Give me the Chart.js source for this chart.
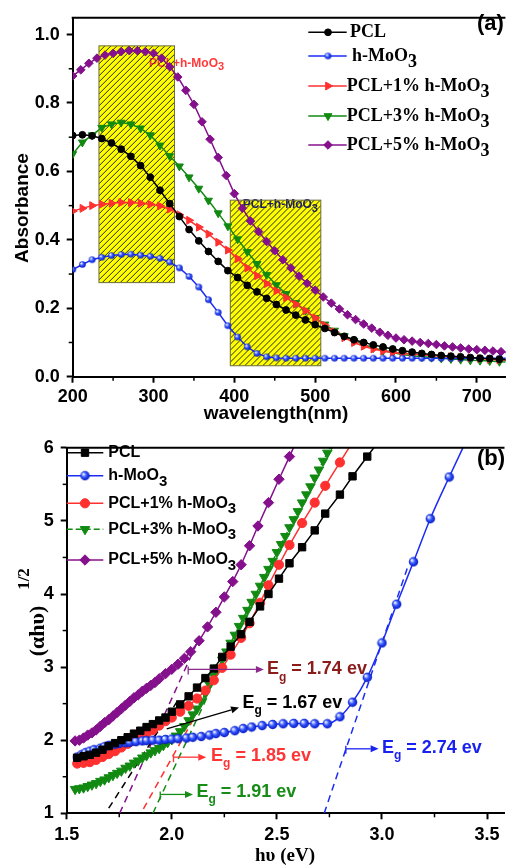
<!DOCTYPE html>
<html lang="en">
<head>
    <meta charset="UTF-8">
    <title>Absorbance and Tauc plots of PCL / h-MoO3</title>
    <script src="https://cdn.jsdelivr.net/npm/chart.js"></script>
    <style>
        body { margin: 0; background: #fff; width: 511px; height: 866px; overflow: hidden; }
        #wrapA { position: absolute; left: 0; top: 0; width: 511px; height: 430px; }
        #wrapB { position: absolute; left: 0; top: 430px; width: 511px; height: 436px; }
    </style>
</head>
<body>

<div id="wrapA"><canvas id="chartA" width="511" height="430"></canvas></div>
<div id="wrapB"><canvas id="chartB" width="511" height="436"></canvas></div>

<script>
    // ---- panel (a): absorbance vs wavelength ----
    const wavelength12 = [200, 212, 224, 236, 248, 260, 272, 284, 296, 308, 320, 332, 344, 356, 368, 380, 392, 404, 416, 428,
        440, 452, 464, 476, 488, 500, 512, 524, 536, 548, 560, 572, 584, 596, 608, 620, 632, 644, 656, 668, 680, 692, 704, 716, 728, 740];
    const wavelength10 = [200, 210, 220, 230, 240, 250, 260, 270, 280, 290, 300, 310, 320, 330, 340, 350, 360, 370, 380, 390,
        400, 410, 420, 430, 440, 450, 460, 470, 480, 490, 500, 510, 520, 530, 540, 550, 560, 570, 580, 590,
        600, 610, 620, 630, 640, 650, 660, 670, 680, 690, 700, 710, 720, 730, 740];

    const absPCL = [0.705, 0.707, 0.704, 0.696, 0.683, 0.665, 0.644, 0.617, 0.583, 0.545, 0.506, 0.468, 0.430, 0.397, 0.366, 0.337, 0.310, 0.290, 0.267, 0.248,
        0.229, 0.211, 0.195, 0.180, 0.166, 0.152, 0.141, 0.129, 0.118, 0.108, 0.100, 0.093, 0.087, 0.081, 0.076, 0.072, 0.068, 0.065, 0.062, 0.060, 0.058, 0.056, 0.054, 0.053, 0.051, 0.050];
    const absMoO3 = [0.313, 0.328, 0.342, 0.349, 0.354, 0.357, 0.358, 0.355, 0.352, 0.346, 0.335, 0.318, 0.293, 0.262, 0.225, 0.188, 0.149, 0.116, 0.087, 0.068,
        0.058, 0.055, 0.054, 0.054, 0.054, 0.054, 0.054, 0.054, 0.054, 0.054, 0.054, 0.054, 0.054, 0.054, 0.054, 0.054, 0.054, 0.054, 0.054, 0.054, 0.054, 0.054, 0.054, 0.054, 0.054, 0.054];
    const absPCL1 = [0.484, 0.492, 0.500, 0.504, 0.507, 0.509, 0.509, 0.507, 0.504, 0.499, 0.490, 0.473, 0.457, 0.437, 0.417, 0.393, 0.370, 0.345, 0.318, 0.295,
        0.272, 0.251, 0.231, 0.212, 0.193, 0.172, 0.150, 0.131, 0.114, 0.100, 0.089, 0.081, 0.075, 0.071, 0.068, 0.066, 0.064, 0.062, 0.060, 0.058, 0.056, 0.055, 0.053, 0.051, 0.049, 0.048];
    const absPCL3 = [0.651, 0.685, 0.706, 0.728, 0.738, 0.743, 0.738, 0.726, 0.706, 0.676, 0.645, 0.615, 0.583, 0.550, 0.515, 0.478, 0.440, 0.402, 0.365, 0.330,
        0.298, 0.268, 0.242, 0.216, 0.193, 0.172, 0.153, 0.135, 0.119, 0.105, 0.094, 0.084, 0.076, 0.070, 0.065, 0.061, 0.058, 0.056, 0.054, 0.052, 0.050, 0.048, 0.047, 0.046, 0.044, 0.043];
    const absPCL5 = [0.879, 0.897, 0.916, 0.931, 0.940, 0.945, 0.950, 0.953, 0.953, 0.950, 0.945, 0.931, 0.906, 0.876, 0.837, 0.796, 0.745, 0.694, 0.641, 0.588,
        0.535, 0.492, 0.455, 0.424, 0.395, 0.368, 0.342, 0.318, 0.294, 0.273, 0.253, 0.233, 0.215, 0.198, 0.181, 0.167, 0.154, 0.142, 0.130, 0.121,
        0.113, 0.108, 0.104, 0.100, 0.097, 0.094, 0.090, 0.087, 0.084, 0.081, 0.079, 0.077, 0.075, 0.073, 0.071];

    // ---- panel (b): (alpha h nu)^1/2 vs photon energy ----
    const ePCL = [1.55, 1.58, 1.61, 1.64, 1.67, 1.70, 1.73, 1.76, 1.79, 1.82, 1.85, 1.88, 1.91, 1.94, 1.97, 2.00, 2.04, 2.08, 2.12, 2.16,
        2.20, 2.24, 2.28, 2.33, 2.37, 2.42, 2.46, 2.51, 2.56, 2.62, 2.68, 2.73, 2.80, 2.86, 2.93, 3.00];
    const tPCL = [1.76, 1.78, 1.80, 1.83, 1.87, 1.92, 1.96, 2.00, 2.04, 2.09, 2.13, 2.18, 2.22, 2.27, 2.31, 2.39, 2.49, 2.60, 2.72, 2.85,
        2.98, 3.14, 3.28, 3.45, 3.62, 3.83, 4.00, 4.21, 4.42, 4.64, 4.87, 5.10, 5.36, 5.61, 5.88, 6.15];
    const tPCL1 = [1.68, 1.69, 1.70, 1.73, 1.77, 1.81, 1.85, 1.90, 1.95, 1.99, 2.04, 2.09, 2.14, 2.20, 2.26, 2.31, 2.39, 2.47, 2.57, 2.68,
        2.82, 2.99, 3.17, 3.40, 3.60, 3.88, 4.12, 4.40, 4.67, 4.97, 5.25, 5.48, 5.80, 6.08];

    const eMoO3 = [1.55, 1.57, 1.59, 1.61, 1.63, 1.66, 1.68, 1.70, 1.73, 1.75, 1.78, 1.80, 1.83, 1.86, 1.88, 1.91, 1.94, 1.97, 2.00, 2.03,
        2.07, 2.10, 2.14, 2.18, 2.21, 2.25, 2.30, 2.34, 2.38, 2.43, 2.48, 2.53, 2.58, 2.63, 2.68, 2.74, 2.80, 2.86, 2.93, 3.00, 3.07, 3.15, 3.23, 3.32, 3.41];
    const tMoO3 = [1.77, 1.80, 1.83, 1.85, 1.87, 1.89, 1.91, 1.93, 1.945, 1.955, 1.965, 1.97, 1.98, 1.99, 1.995, 2.00, 2.00, 2.01, 2.015, 2.02,
        2.03, 2.04, 2.05, 2.07, 2.09, 2.105, 2.13, 2.16, 2.18, 2.20, 2.215, 2.225, 2.23, 2.23, 2.225, 2.225, 2.32, 2.52, 2.86, 3.33, 3.86, 4.44, 5.03, 5.60, 6.15];

    const ePCL3 = [1.54, 1.56, 1.58, 1.60, 1.62, 1.64, 1.66, 1.68, 1.70, 1.72, 1.74, 1.76, 1.78, 1.80, 1.82, 1.84, 1.86, 1.88, 1.90, 1.92,
        1.94, 1.96, 1.98, 2.00, 2.02, 2.04, 2.06, 2.08, 2.10, 2.12, 2.14, 2.16, 2.18, 2.20, 2.22, 2.24, 2.26, 2.28, 2.30, 2.32,
        2.34, 2.36, 2.38, 2.40, 2.42, 2.44, 2.46, 2.48, 2.50, 2.52, 2.54, 2.56, 2.58, 2.60, 2.62, 2.64, 2.66, 2.68, 2.70, 2.72, 2.74, 2.76];
    const tPCL3 = [1.33, 1.34, 1.35, 1.37, 1.39, 1.41, 1.44, 1.46, 1.49, 1.52, 1.55, 1.58, 1.62, 1.65, 1.69, 1.72, 1.76, 1.79, 1.83, 1.86,
        1.89, 1.93, 1.97, 2.01, 2.06, 2.12, 2.19, 2.27, 2.35, 2.43, 2.53, 2.64, 2.76, 2.88, 2.99, 3.10, 3.21, 3.33, 3.44, 3.56,
        3.67, 3.78, 3.89, 4.00, 4.11, 4.23, 4.34, 4.45, 4.57, 4.68, 4.79, 4.91, 5.02, 5.13, 5.25, 5.36, 5.47, 5.59, 5.70, 5.82, 5.93, 6.05];

    const ePCL5 = [1.54, 1.56, 1.58, 1.60, 1.62, 1.64, 1.66, 1.68, 1.70, 1.72, 1.74, 1.76, 1.78, 1.80, 1.82, 1.84, 1.86, 1.88, 1.90, 1.92,
        1.94, 1.97, 2.00, 2.03, 2.06, 2.09, 2.13, 2.17, 2.21, 2.25, 2.29, 2.33, 2.37, 2.41, 2.46, 2.51, 2.56, 2.61];
    const tPCL5 = [1.99, 2.00, 2.03, 2.07, 2.10, 2.14, 2.19, 2.24, 2.28, 2.33, 2.38, 2.43, 2.48, 2.53, 2.58, 2.62, 2.67, 2.71, 2.75, 2.79,
        2.84, 2.91, 2.97, 3.04, 3.12, 3.21, 3.36, 3.55, 3.75, 3.96, 4.17, 4.40, 4.66, 4.93, 5.25, 5.57, 5.88, 6.20];

    // linear fits used for the band gap (x = eV, y = (ahv)^1/2)
    const fitPCL = [[1.70, 1.07], [2.03, 2.55]];
    const fitPCL5 = [[1.752, 1.0], [2.12, 3.33]];
    const fitPCL1 = [[1.865, 1.06], [2.15, 2.53]];
    const fitPCL3 = [[1.91, 1.0], [2.17, 2.60]];
    const fitMoO3 = [[2.725, 1.0], [3.12, 4.35]];

    const seriesNames = ['PCL', 'h-MoO3', 'PCL+1% h-MoO3', 'PCL+3% h-MoO3', 'PCL+5% h-MoO3'];

    const SANS = "'Liberation Sans', Arial, sans-serif";
    const SERIF = "'Liberation Serif', 'Times New Roman', serif";
    const BLACK = '#000000', BLUE = '#1a2cf5', RED = '#ff3030', GREEN = '#128a12', PURPLE = '#84108c';

    function pts(xs, ys) {
        return ys.map((y, i) => ({ x: xs[i], y: y }));
    }

    // shaded ball marker used for h-MoO3
    function sphere(r) {
        const d = Math.ceil(r * 2) + 1;
        const c = document.createElement('canvas');
        c.width = d; c.height = d;
        const g = c.getContext('2d');
        const grad = g.createRadialGradient(d / 2 - r * 0.35, d / 2 - r * 0.35, r * 0.1, d / 2, d / 2, r);
        grad.addColorStop(0, '#eef2ff');
        grad.addColorStop(0.45, '#3355ff');
        grad.addColorStop(1, '#0010b8');
        g.fillStyle = grad;
        g.beginPath();
        g.arc(d / 2, d / 2, r - 0.3, 0, Math.PI * 2);
        g.fill();
        return c;
    }

    function drawMarker(ctx, ds, x, y) {
        const style = ds.pointStyle;
        if (style instanceof HTMLCanvasElement) {
            ctx.drawImage(style, x - style.width / 2, y - style.height / 2);
            return;
        }
        const r = ds.pointRadius;
        let rad = (ds.pointRotation || 0) * Math.PI / 180;
        ctx.save();
        ctx.beginPath();
        if (style === 'circle') {
            ctx.arc(x, y, r, 0, Math.PI * 2);
        } else if (style === 'rect') {
            const s = r * Math.SQRT1_2;
            ctx.rect(x - s, y - s, 2 * s, 2 * s);
        } else if (style === 'rectRot') {
            ctx.moveTo(x, y - r); ctx.lineTo(x + r, y); ctx.lineTo(x, y + r); ctx.lineTo(x - r, y);
        } else if (style === 'triangle') {
            for (let k = 0; k < 3; k++) {
                const px = x + Math.sin(rad) * r, py = y - Math.cos(rad) * r;
                if (k === 0) ctx.moveTo(px, py); else ctx.lineTo(px, py);
                rad += Math.PI * 2 / 3;
            }
        }
        ctx.closePath();
        ctx.fillStyle = ds.pointBackgroundColor;
        ctx.fill();
        ctx.lineWidth = ds.pointBorderWidth || 1;
        ctx.strokeStyle = ds.pointBorderColor;
        ctx.stroke();
        ctx.restore();
    }

    // text with a lowered trailing part, e.g. MoO3 or Eg
    function drawParts(ctx, x, y, parts) {
        parts.forEach(p => {
            ctx.font = p.font;
            ctx.fillText(p.text, x, y + (p.dy || 0));
            x += ctx.measureText(p.text).width;
        });
        return x;
    }

    function moParts(label, font, subFont, dy) {
        if (label.endsWith('MoO3')) {
            return [{ text: label.slice(0, -1), font: font }, { text: '3', font: subFont, dy: dy }];
        }
        return [{ text: label, font: font }];
    }

    // axis frame: minor ticks and the top border line
    function framePlugin(minorX, minorY) {
        return {
            id: 'frame',
            afterDraw(chart) {
                const { ctx, chartArea: a, scales: { x, y } } = chart;
                ctx.save();
                ctx.strokeStyle = '#000';
                ctx.lineWidth = 1.5;
                minorX.forEach(v => {
                    const px = x.getPixelForValue(v);
                    if (px < a.left || px > a.right) return;
                    ctx.beginPath(); ctx.moveTo(px, a.bottom); ctx.lineTo(px, a.bottom + 4); ctx.stroke();
                });
                minorY.forEach(v => {
                    const py = y.getPixelForValue(v);
                    ctx.beginPath(); ctx.moveTo(a.left, py); ctx.lineTo(a.left - 4, py); ctx.stroke();
                });
                ctx.lineWidth = 2;
                ctx.beginPath(); ctx.moveTo(a.left - 1, a.top); ctx.lineTo(a.right, a.top); ctx.stroke();
                ctx.restore();
            }
        };
    }

    function legendPlugin(rows, lineX0, lineX1, markX, font, subFont, subDy) {
        return {
            id: 'seriesLegend',
            afterDraw(chart) {
                const ctx = chart.ctx;
                ctx.save();
                rows.forEach((row, i) => {
                    const ds = chart.data.datasets[i];
                    ctx.strokeStyle = ds.borderColor;
                    ctx.lineWidth = 1.5;
                    ctx.setLineDash(ds.borderDash || []);
                    ctx.beginPath(); ctx.moveTo(lineX0, row.y); ctx.lineTo(lineX1, row.y); ctx.stroke();
                    ctx.setLineDash([]);
                    drawMarker(ctx, ds, markX, row.y);
                    ctx.fillStyle = '#000';
                    ctx.textAlign = 'left';
                    ctx.textBaseline = 'middle';
                    drawParts(ctx, row.tx, row.y, moParts(ds.label, font, subFont, subDy));
                });
                ctx.restore();
            }
        };
    }

    // ---------------- chart (a) ----------------
    const hatchBoxes = [
        { x0: 232.5, x1: 326, y0: 0.275, y1: 0.967, note: 'PCL+h-MoO3', noteColor: '#ff3a3a', nx: 294.4, ny: 0.916 },
        { x0: 395, x1: 507, y0: 0.032, y1: 0.516, note: 'PCL+h-MoO3', noteColor: '#1c1c78', nx: 410.5, ny: 0.502 }
    ];

    const boxPlugin = {
        id: 'hatchBoxes',
        beforeDatasetsDraw(chart) {
            const { ctx, scales: { x, y } } = chart;
            hatchBoxes.forEach(b => {
                const L = x.getPixelForValue(b.x0), R = x.getPixelForValue(b.x1);
                const T = y.getPixelForValue(b.y1), B = y.getPixelForValue(b.y0);
                ctx.save();
                ctx.fillStyle = '#ffff00';
                ctx.fillRect(L, T, R - L, B - T);
                // note text sits under the hatching
                ctx.fillStyle = b.noteColor;
                ctx.textAlign = 'left';
                ctx.textBaseline = 'middle';
                drawParts(ctx, x.getPixelForValue(b.nx), y.getPixelForValue(b.ny),
                    moParts(b.note, 'bold 12px ' + SANS, 'bold 11px ' + SANS, 4));
                ctx.beginPath(); ctx.rect(L, T, R - L, B - T); ctx.clip();
                ctx.strokeStyle = '#2a2a10';
                ctx.lineWidth = 1;
                ctx.beginPath();
                for (let k = L - (B - T); k < R; k += 6) {
                    ctx.moveTo(k, B); ctx.lineTo(k + (B - T), T);
                }
                ctx.stroke();
                ctx.restore();
                ctx.save();
                ctx.strokeStyle = '#6b6b40';
                ctx.lineWidth = 1;
                ctx.strokeRect(L, T, R - L, B - T);
                ctx.restore();
            });
        }
    };

    const titlesA = {
        id: 'titlesA',
        afterDraw(chart) {
            const ctx = chart.ctx;
            ctx.save();
            ctx.fillStyle = '#000';
            ctx.font = 'bold 19px ' + SANS;
            ctx.textAlign = 'center';
            ctx.textBaseline = 'middle';
            ctx.translate(23, 208);
            ctx.rotate(-Math.PI / 2);
            ctx.fillText('Absorbance', 0, 0);
            ctx.restore();
            ctx.save();
            ctx.fillStyle = '#000';
            ctx.font = 'bold 19px ' + SANS;
            ctx.textAlign = 'center';
            ctx.textBaseline = 'alphabetic';
            ctx.fillText('wavelength(nm)', 276, 419);
            ctx.font = 'bold 22px ' + SANS;
            ctx.textAlign = 'left';
            ctx.textBaseline = 'middle';
            ctx.fillText('(a)', 477, 24);
            ctx.restore();
        }
    };

    const tickFont = { family: SANS, size: 18, weight: 'bold' };

    const sphereA = sphere(3.6);
    const sphereB = sphere(5);

    new Chart(document.getElementById('chartA'), {
        type: 'line',
        data: {
            datasets: [
                { label: seriesNames[0], data: pts(wavelength12, absPCL), borderColor: BLACK, borderWidth: 1.5,
                  pointStyle: 'circle', pointRadius: 3.4, pointBackgroundColor: BLACK, pointBorderColor: BLACK, pointBorderWidth: 1 },
                { label: seriesNames[1], data: pts(wavelength12, absMoO3), borderColor: BLUE, borderWidth: 1.5,
                  pointStyle: sphereA, pointRadius: 3.6, pointBackgroundColor: BLUE, pointBorderColor: BLUE },
                { label: seriesNames[2], data: pts(wavelength12, absPCL1), borderColor: RED, borderWidth: 1.5,
                  pointStyle: 'triangle', pointRotation: 90, pointRadius: 4.6, pointBackgroundColor: RED, pointBorderColor: RED, pointBorderWidth: 1 },
                { label: seriesNames[3], data: pts(wavelength12, absPCL3), borderColor: GREEN, borderWidth: 1.5,
                  pointStyle: 'triangle', pointRotation: 180, pointRadius: 4.6, pointBackgroundColor: GREEN, pointBorderColor: GREEN, pointBorderWidth: 1 },
                { label: seriesNames[4], data: pts(wavelength10, absPCL5), borderColor: PURPLE, borderWidth: 1.5,
                  pointStyle: 'rectRot', pointRadius: 4.3, pointBackgroundColor: PURPLE, pointBorderColor: PURPLE, pointBorderWidth: 1 }
            ]
        },
        options: {
            responsive: false,
            animation: false,
            devicePixelRatio: 1,
            layout: { padding: { top: 14, right: 0, left: 0, bottom: 0 } },
            elements: { line: { tension: 0 } },
            plugins: { legend: { display: false }, tooltip: { enabled: false } },
            scales: {
                x: {
                    type: 'linear', min: 200, max: 735.4,
                    afterFit(s) { s.height = 53.3; },
                    ticks: { stepSize: 100, includeBounds: false, font: tickFont, color: '#000', padding: 4, maxRotation: 0 },
                    grid: { drawOnChartArea: false, tickLength: 6, tickWidth: 2, tickColor: '#000' },
                    border: { color: '#000', width: 2 }
                },
                y: {
                    type: 'linear', min: 0, max: 1.049,
                    afterFit(s) { s.width = 72.7; },
                    ticks: { stepSize: 0.2, includeBounds: false, font: tickFont, color: '#000', padding: 7,
                             callback: v => v.toFixed(1) },
                    grid: { drawOnChartArea: false, tickLength: 6, tickWidth: 2, tickColor: '#000' },
                    border: { color: '#000', width: 2 }
                }
            }
        },
        plugins: [
            boxPlugin,
            framePlugin([250, 350, 450, 550, 650], [0.1, 0.3, 0.5, 0.7, 0.9]),
            legendPlugin([{ y: 32.3, tx: 350 }, { y: 56, tx: 352 }, { y: 86, tx: 346.7 }, { y: 116, tx: 346.7 }, { y: 145, tx: 346.7 }],
                308.3, 346.7, 328, 'bold 18px ' + SERIF, 'bold 18px ' + SERIF, 6),
            titlesA
        ]
    });

    // ---------------- chart (b) ----------------
    const egNotes = [
        { value: '1.74', color: '#8b1c1c', arrow: '#8b2a8b', from: [2.078, 2.968], to: [2.438, 2.968], bar: true, at: [2.453, 2.968] },
        { value: '1.67', color: '#000000', arrow: '#000000', from: [1.976, 2.154], to: [2.32, 2.447], bar: false, at: [2.336, 2.515] },
        { value: '1.85', color: '#ff3535', arrow: '#ff3535', from: [2.008, 1.768], to: [2.164, 1.768], bar: true, at: [2.187, 1.79] },
        { value: '1.91', color: '#178c17', arrow: '#178c17', from: [1.945, 1.258], to: [2.101, 1.258], bar: true, at: [2.117, 1.293] },
        { value: '2.74', color: '#1a22f0', arrow: '#1a22f0', from: [2.828, 1.882], to: [2.984, 1.882], bar: true, at: [3.0, 1.896] }
    ];

    function drawArrow(ctx, x1, y1, x2, y2, color, bar) {
        const a = Math.atan2(y2 - y1, x2 - x1), hl = 8, hw = 3.5;
        const bx = x2 - hl * Math.cos(a), by = y2 - hl * Math.sin(a);
        ctx.strokeStyle = color;
        ctx.fillStyle = color;
        ctx.lineWidth = 1.3;
        ctx.beginPath(); ctx.moveTo(x1, y1); ctx.lineTo(bx, by); ctx.stroke();
        ctx.beginPath();
        ctx.moveTo(x2, y2);
        ctx.lineTo(bx - hw * Math.sin(a), by + hw * Math.cos(a));
        ctx.lineTo(bx + hw * Math.sin(a), by - hw * Math.cos(a));
        ctx.closePath(); ctx.fill();
        if (bar) {
            ctx.beginPath(); ctx.moveTo(x1, y1 - 3); ctx.lineTo(x1, y1 + 5); ctx.stroke();
        }
    }

    const egPlugin = {
        id: 'bandGaps',
        afterDatasetsDraw(chart) {
            const { ctx, scales: { x, y } } = chart;
            ctx.save();
            egNotes.forEach(n => {
                drawArrow(ctx, x.getPixelForValue(n.from[0]), y.getPixelForValue(n.from[1]),
                    x.getPixelForValue(n.to[0]), y.getPixelForValue(n.to[1]), n.arrow, n.bar);
                ctx.fillStyle = n.color;
                ctx.textAlign = 'left';
                ctx.textBaseline = 'middle';
                drawParts(ctx, x.getPixelForValue(n.at[0]), y.getPixelForValue(n.at[1]), [
                    { text: 'E', font: 'bold 18px ' + SANS },
                    { text: 'g', font: 'bold 12px ' + SANS, dy: 8 },
                    { text: ' = ' + n.value + ' ev', font: 'bold 18px ' + SANS }
                ]);
            });
            ctx.restore();
        }
    };

    const titlesB = {
        id: 'titlesB',
        afterDraw(chart) {
            const ctx = chart.ctx;
            ctx.save();
            ctx.fillStyle = '#000';
            ctx.textAlign = 'center';
            ctx.textBaseline = 'middle';
            ctx.translate(38, 201);
            ctx.rotate(-Math.PI / 2);
            ctx.font = 'bold 22px ' + SERIF;
            ctx.fillText('(\u03b1h\u03c5)', 0, 0);
            ctx.font = 'bold 17px ' + SERIF;
            ctx.fillText('1/2', 52, -13);
            ctx.restore();
            ctx.save();
            ctx.fillStyle = '#000';
            ctx.textAlign = 'center';
            ctx.textBaseline = 'middle';
            ctx.font = 'bold 19px ' + SERIF;
            ctx.fillText('h\u03c5 (eV)', 285, 426);
            ctx.font = 'bold 22px ' + SANS;
            ctx.textAlign = 'left';
            ctx.fillText('(b)', 477, 29);
            ctx.restore();
        }
    };

    function fitLine(pairs, color) {
        return { label: 'fit', data: pairs.map(p => ({ x: p[0], y: p[1] })), borderColor: color, borderWidth: 1.5,
                 borderDash: [7, 5], pointRadius: 0 };
    }

    new Chart(document.getElementById('chartB'), {
        type: 'line',
        data: {
            datasets: [
                { label: seriesNames[0], data: pts(ePCL, tPCL), borderColor: BLACK, borderWidth: 1.5,
                  pointStyle: 'rect', pointRadius: 5.2, pointBackgroundColor: BLACK, pointBorderColor: BLACK, pointBorderWidth: 1 },
                { label: seriesNames[1], data: pts(eMoO3, tMoO3), borderColor: BLUE, borderWidth: 1.5, cubicInterpolationMode: 'monotone',
                  pointStyle: sphereB, pointRadius: 5, pointBackgroundColor: BLUE, pointBorderColor: BLUE },
                { label: seriesNames[2], data: pts(ePCL, tPCL1), borderColor: RED, borderWidth: 1.5,
                  pointStyle: 'circle', pointRadius: 4.6, pointBackgroundColor: RED, pointBorderColor: RED, pointBorderWidth: 1 },
                { label: seriesNames[3], data: pts(ePCL3, tPCL3), borderColor: GREEN, borderWidth: 1.5, borderDash: [6, 3],
                  pointStyle: 'triangle', pointRotation: 180, pointRadius: 5.5, pointBackgroundColor: GREEN, pointBorderColor: GREEN, pointBorderWidth: 1 },
                { label: seriesNames[4], data: pts(ePCL5, tPCL5), borderColor: PURPLE, borderWidth: 1.5,
                  pointStyle: 'rectRot', pointRadius: 5.2, pointBackgroundColor: PURPLE, pointBorderColor: PURPLE, pointBorderWidth: 1 },
                fitLine(fitPCL, BLACK),
                fitLine(fitPCL5, PURPLE),
                fitLine(fitPCL1, RED),
                fitLine(fitPCL3, GREEN),
                fitLine(fitMoO3, BLUE)
            ]
        },
        options: {
            responsive: false,
            animation: false,
            devicePixelRatio: 1,
            layout: { padding: { top: 15, right: 0, left: 0, bottom: 0 } },
            elements: { line: { tension: 0 } },
            plugins: { legend: { display: false }, tooltip: { enabled: false } },
            scales: {
                x: {
                    type: 'linear', min: 1.5, max: 3.583,
                    afterFit(s) { s.height = 52.7; },
                    ticks: { stepSize: 0.5, includeBounds: false, font: tickFont, color: '#000', padding: 5, maxRotation: 0,
                             callback: v => v.toFixed(1) },
                    grid: { drawOnChartArea: false, tickLength: 6, tickWidth: 2, tickColor: '#000' },
                    border: { color: '#000', width: 2 }
                },
                y: {
                    type: 'linear', min: 1, max: 6,
                    afterFit(s) { s.width = 66.7; },
                    ticks: { stepSize: 1, includeBounds: false, font: tickFont, color: '#000', padding: 7 },
                    grid: { drawOnChartArea: false, tickLength: 6, tickWidth: 2, tickColor: '#000' },
                    border: { color: '#000', width: 2 }
                }
            }
        },
        plugins: [
            egPlugin,
            framePlugin([1.75, 2.25, 2.75, 3.25], [1.5, 2.5, 3.5, 4.5, 5.5]),
            legendPlugin([{ y: 22.7, tx: 108.3 }, { y: 45.7, tx: 108.3 }, { y: 73.3, tx: 108.3 }, { y: 99.3, tx: 108.3 }, { y: 130, tx: 108.3 }],
                66.7, 103.3, 85, 'bold 16px ' + SANS, 'bold 15px ' + SANS, 6),
            titlesB
        ]
    });
</script>

</body>
</html>
